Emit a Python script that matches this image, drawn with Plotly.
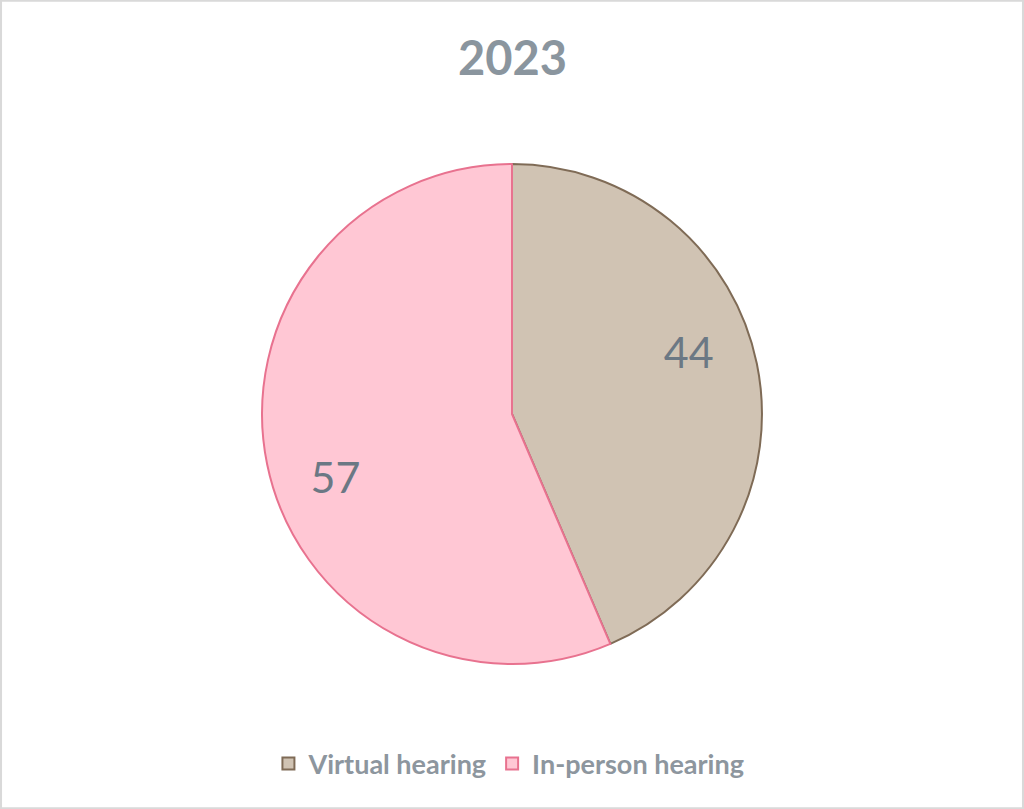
import plotly.graph_objects as go

labels = ["Virtual hearing", "In-person hearing"]
values = [44, 57]
fill_colors = ["#d0c3b3", "#ffc7d4"]
line_colors = ["#7f6b56", "#e8728f"]
title_text = "2023"

FONT = "Lato, 'Open Sans', sans-serif"
PIE_DOMAIN = dict(x=[0.2559, 0.7441], y=[0.1792, 0.7973])

fig = go.Figure()

# visible slices
fig.add_trace(go.Pie(
    labels=labels, values=values,
    sort=False, direction="clockwise", rotation=0,
    marker=dict(colors=fill_colors, line=dict(color=line_colors, width=2)),
    textinfo="none",
    domain=PIE_DOMAIN,
    hoverinfo="label+value",
))

# transparent ring on top, only to place the value labels further out
fig.add_trace(go.Pie(
    labels=labels, values=values,
    sort=False, direction="clockwise", rotation=-8,
    hole=0.5,
    marker=dict(colors=["rgba(0,0,0,0)"] * len(values), line=dict(width=0)),
    textinfo="value", textposition="inside",
    insidetextorientation="horizontal",
    textfont=dict(family=FONT, size=43, color="#6b7884"),
    domain=PIE_DOMAIN,
    showlegend=False, hoverinfo="skip",
))

fig.add_annotation(
    x=0.5, y=1 - 57 / 809, xref="paper", yref="paper",
    text="<b>" + title_text + "</b>", showarrow=False,
    font=dict(family=FONT, size=47, color="#8a959e"),
    xanchor="center", yanchor="middle",
)

fig.add_shape(
    type="rect", xref="paper", yref="paper",
    x0=0.001, x1=0.999, y0=0.001, y1=0.999,
    line=dict(color="#d9d9d9", width=2),
)

fig.update_layout(
    width=1024, height=809,
    margin=dict(l=0, r=0, t=0, b=0),
    paper_bgcolor="white",
    showlegend=True,
    legend=dict(
        orientation="h", x=0.497, xanchor="center",
        y=1 - 764 / 809, yanchor="middle",
        font=dict(family=FONT, size=27, color="#8d969e", weight="bold"),
        itemwidth=30,
    ),
)

fig.write_html(
    "out.html",
    config=dict(displayModeBar=False),
    post_script="document.body.style.margin='0';document.body.style.overflow='hidden';",
)
